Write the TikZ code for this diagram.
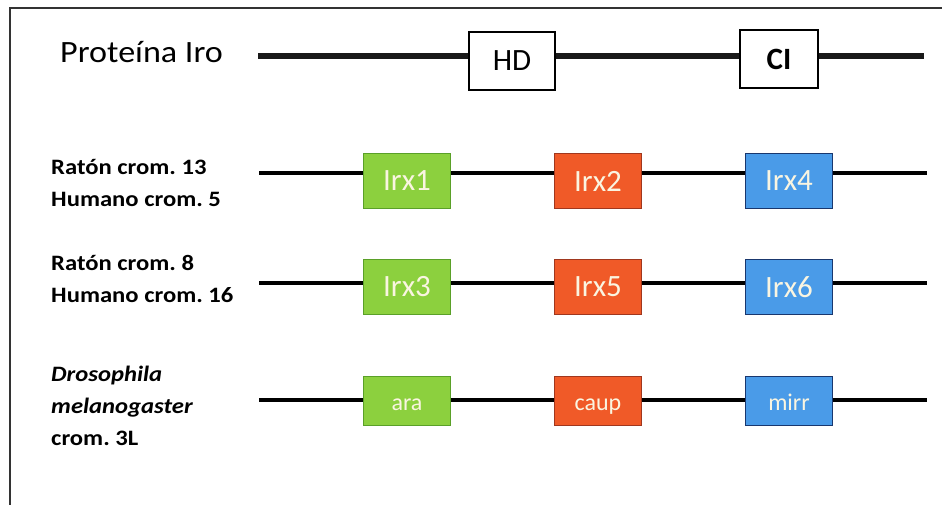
\documentclass[tikz,border=0pt]{standalone}
\usepackage{fontspec}
\setmainfont{Carlito}
\frenchspacing
\definecolor{gfill}{RGB}{140,208,62}
\definecolor{gdraw}{RGB}{90,160,40}
\definecolor{ofill}{RGB}{240,90,40}
\definecolor{odraw}{RGB}{160,55,30}
\definecolor{bfill}{RGB}{74,155,232}
\definecolor{bdraw}{RGB}{25,55,110}
\definecolor{boxtext}{RGB}{250,245,225}
\begin{document}
\begin{tikzpicture}[x=1pt,y=-1pt,
  gene/.style={minimum width=87pt, minimum height=55pt, line width=1.2pt, text=boxtext, inner sep=0pt, font=\fontsize{31}{33}\selectfont},
  small/.style={minimum height=49pt, font=\fontsize{24}{26}\selectfont, text height=22pt, text depth=4pt},
  grn/.style={gene, fill=gfill, draw=gdraw},
  org/.style={gene, fill=ofill, draw=odraw},
  blu/.style={gene, fill=bfill, draw=bdraw},
  dom/.style={draw=black, line width=1.6pt, fill=white, minimum height=58pt, inner sep=0pt, font=\fontsize{31}{33}\selectfont},
  chrom/.style={line width=3.5pt, black},
  prot/.style={line width=6pt, black!90},
  lbl/.style={anchor=west, inner sep=0pt, align=left, font=\bfseries\fontsize{22}{32}\selectfont, xscale=1.12, transform shape},
  frame/.style={draw=black!80, line width=2pt}
]
\useasboundingbox (0,0) rectangle (942,505);
\draw[frame] (10,505) -- (10,8) -- (942,8);

% protein row
\node[anchor=west, inner sep=0pt, font=\fontsize{31}{33}\selectfont, xscale=1.1, transform shape] (prot) at (60,52) {Proteína Iro};
\coordinate (p0) at (258,56);
\coordinate (p1) at (924,56);
\draw[prot] (p0) -- (p1);
\node[dom, minimum width=86pt] (hd) at (512,61) {HD};
\node[dom, minimum width=78pt, font=\bfseries\fontsize{31}{33}\selectfont] (ci) at (779,59) {CI};

% row 2
\coordinate (a0) at (259,173);
\coordinate (a1) at (927,173);
\draw[chrom] (a0) -- (a1);
\node[grn] (irx1) at (407,181) {Irx1};
\node[org] (irx2) at (598,181) {Irx2};
\node[blu] (irx4) at (789,181) {Irx4};
\node[lbl] (l1) at (51,183) {Ratón crom. 13\\Humano crom. 5};

% row 3
\coordinate (b0) at (259,283);
\coordinate (b1) at (927,283);
\draw[chrom] (b0) -- (b1);
\node[grn] (irx3) at (407,287) {Irx3};
\node[org] (irx5) at (598,287) {Irx5};
\node[blu] (irx6) at (789,287) {Irx6};
\node[lbl] (l2) at (51,279) {Ratón crom. 8\\Humano crom. 16};

% row 4
\coordinate (c0) at (259,400);
\coordinate (c1) at (927,400);
\draw[chrom] (c0) -- (c1);
\node[grn, small] (ara) at (407,401) {ara};
\node[org, small] (caup) at (598,401) {caup};
\node[blu, small] (mirr) at (789,401) {mirr};
\node[lbl] (l3) at (51,406) {\itshape Drosophila\\\itshape melanogaster\\crom. 3L};
\end{tikzpicture}
\end{document}
